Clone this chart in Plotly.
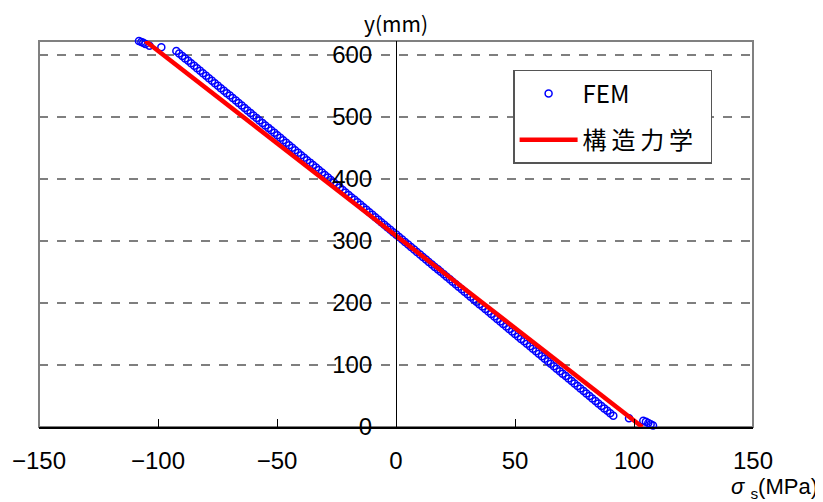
import plotly.graph_objects as go

# ---- data ----
fem_y = [622.0, 620.5, 619.0, 617.0, 614.5, 612.0,
         606, 602, 598, 594, 590, 586, 582, 578, 574, 570,
         566, 562, 558, 554, 550, 546, 542, 538, 534, 530,
         526, 522, 518, 514, 510, 506, 502, 498, 494, 490,
         486, 482, 478, 474, 470, 466, 462, 458, 454, 450,
         446, 442, 438, 434, 430, 426, 422, 418, 414, 410,
         406, 402, 398, 394, 390, 386, 382, 378, 374, 370,
         366, 362, 358, 354, 350, 346, 342, 338, 334, 330,
         326, 322, 318, 314, 310, 306, 302, 298, 294, 290,
         286, 282, 278, 274, 270, 266, 262, 258, 254, 250,
         246, 242, 238, 234, 230, 226, 222, 218, 214, 210,
         206, 202, 198, 194, 190, 186, 182, 178, 174, 170,
         166, 162, 158, 154, 150, 146, 142, 138, 134, 130,
         126, 122, 118, 114, 110, 106, 102, 98, 94, 90,
         86, 82, 78, 74, 70, 66, 62, 58, 54, 50,
         46, 42, 38, 34, 30, 26, 22, 18,
         14.0, 10.0, 8.5, 6.5, 4.5, 2.5]
fem_stress = [-108.0, -107.0, -106.2, -105.3, -103.6, -98.6,
              -92.3, -91.1, -89.8, -88.6, -87.3, -86.1, -84.8, -83.6, -82.3, -81.1,
              -79.8, -78.6, -77.3, -76.1, -74.8, -73.6, -72.3, -71.1, -69.8, -68.6,
              -67.3, -66.1, -64.8, -63.6, -62.4, -61.1, -59.9, -58.6, -57.4, -56.1,
              -54.9, -53.6, -52.4, -51.1, -49.9, -48.6, -47.4, -46.1, -44.9, -43.6,
              -42.4, -41.1, -39.9, -38.6, -37.4, -36.1, -34.9, -33.6, -32.4, -31.1,
              -29.9, -28.6, -27.4, -26.1, -24.9, -23.6, -22.4, -21.2, -19.9, -18.7,
              -17.4, -16.2, -14.9, -13.7, -12.4, -11.2, -9.9, -8.7, -7.4, -6.2,
              -4.9, -3.7, -2.4, -1.2, 0.1, 1.3, 2.6, 3.8, 5.1, 6.3,
              7.6, 8.8, 10.1, 11.3, 12.6, 13.8, 15.1, 16.3, 17.6, 18.8,
              20.1, 21.3, 22.6, 23.8, 25.1, 26.3, 27.6, 28.8, 30.1, 31.3,
              32.6, 33.8, 35.0, 36.3, 37.5, 38.8, 40.0, 41.3, 42.5, 43.8,
              45.0, 46.3, 47.5, 48.8, 50.0, 51.3, 52.5, 53.8, 55.0, 56.3,
              57.5, 58.8, 60.0, 61.3, 62.5, 63.8, 65.0, 66.3, 67.5, 68.8,
              70.0, 71.3, 72.5, 73.8, 75.0, 76.3, 77.5, 78.8, 80.0, 81.3,
              82.5, 83.8, 85.0, 86.3, 87.5, 88.8, 90.0, 91.3,
              97.9, 103.9, 105.0, 106.0, 107.0, 108.0]

theory_stress = [103.5, -105.3]
theory_y = [0.0, 622.0]

x_ticks = [-150, -100, -50, 0, 50, 100, 150]
y_ticks = [0, 100, 200, 300, 400, 500, 600]

NUM_FONT = "Liberation Sans, Arial, sans-serif"
JP_FONT = "Noto Sans CJK JP, sans-serif"

fig = go.Figure()
fig.add_trace(go.Scatter(
    x=fem_stress, y=fem_y, mode="markers", name="FEM",
    marker=dict(symbol="circle-open", size=7, color="#0000ff",
                line=dict(width=1.5, color="#0000ff")),
    cliponaxis=False, legendgroup="a"))
fig.add_trace(go.Scatter(
    x=theory_stress, y=theory_y, mode="lines",
    name="構\u2009造\u2009力\u2009学\u2002",
    line=dict(color="#ff0000", width=4.5), legendgroup="b"))

fig.update_layout(
    width=815, height=494,
    margin=dict(l=31, r=70, t=33, b=75),
    paper_bgcolor="white", plot_bgcolor="white",
    font=dict(family=NUM_FONT, size=24, color="black"),
    showlegend=True,
    legend=dict(x=0.664, y=0.925, xanchor="left", yanchor="top",
                bgcolor="white", bordercolor="#555555", borderwidth=1.5,
                font=dict(family=JP_FONT, size=24, color="black"),
                itemwidth=58, tracegroupgap=12, traceorder="grouped"),
    xaxis=dict(range=[-150, 150], tickvals=x_ticks,
               ticks="inside", ticklen=8, tickcolor="black", tickwidth=1,
               showline=True, linecolor="black", linewidth=2,
               showgrid=False, zeroline=False, ticklabelstandoff=11,
               automargin=False,
               tickfont=dict(family=NUM_FONT, size=24)),
    yaxis=dict(range=[0, 622], tickvals=y_ticks,
               anchor="free", position=0.5,
               showline=True, linecolor="black", linewidth=1,
               ticks="", showgrid=True, gridcolor="#7f7f7f",
               griddash="dash", gridwidth=1.5, zeroline=False,
               ticklabelstandoff=19, automargin=False,
               tickfont=dict(family=NUM_FONT, size=24)),
    shapes=[dict(type="rect", xref="paper", yref="paper",
                 x0=0, x1=1, y0=0, y1=1,
                 line=dict(color="#808080", width=2), layer="below")],
    annotations=[
        dict(text="y(mm)", xref="x", yref="paper", x=0, y=1.0,
             xanchor="center", yanchor="bottom", yshift=1,
             showarrow=False, font=dict(family=JP_FONT, size=21)),
        dict(text="<i>σ</i> <sub>s</sub>(MPa)", xref="paper", yref="paper",
             x=1.094, y=-0.157, xanchor="right", yanchor="middle",
             showarrow=False, font=dict(family=NUM_FONT, size=22)),
    ],
)

fig.write_html("out.html")
